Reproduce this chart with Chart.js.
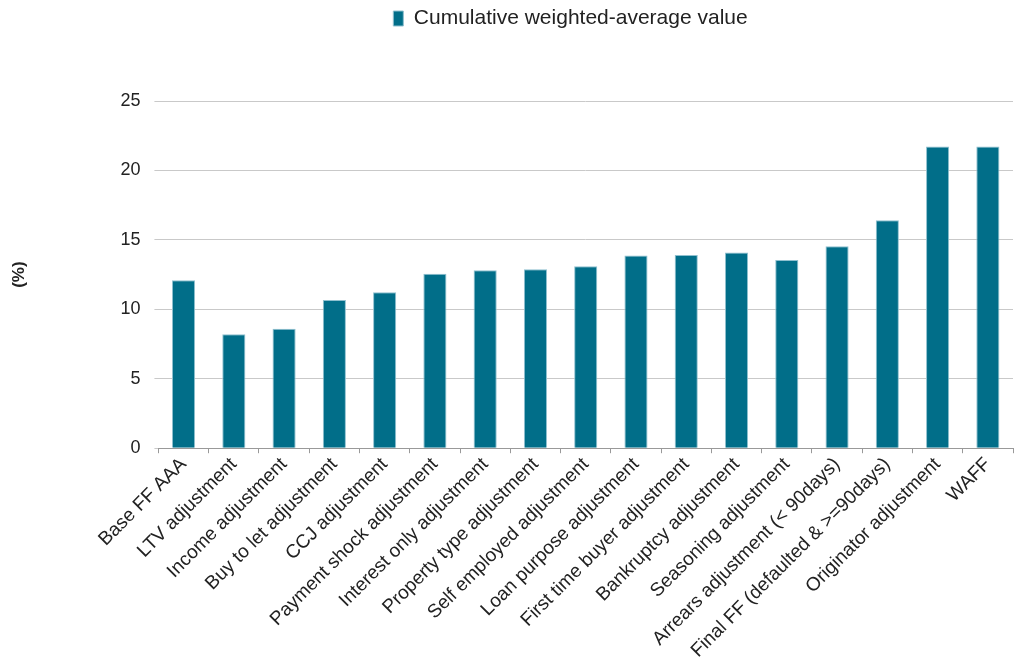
<!DOCTYPE html>
<html>
<head>
<meta charset="utf-8">
<script src="https://cdn.jsdelivr.net/npm/chart.js@4"></script>
<style>
  body { margin: 0; background: #fff; }
  #wrap { width: 1016px; height: 664px; }
</style>
</head>
<body>
<div id="wrap"><canvas id="chart"></canvas></div>
<script>
// categories and values
const categories = [
  'Base FF AAA', 'LTV adjustment', 'Income adjustment', 'Buy to let adjustment',
  'CCJ adjustment', 'Payment shock adjustment', 'Interest only adjustment',
  'Property type adjustment', 'Self employed adjustment', 'Loan purpose adjustment',
  'First time buyer adjustment', 'Bankruptcy adjustment', 'Seasoning adjustment',
  'Arrears adjustment (< 90days)', 'Final FF (defaulted & >=90days)',
  'Originator adjustment', 'WAFF'
];
const cumulativeValues = [12.1, 8.2, 8.6, 10.67, 11.23, 12.57, 12.81, 12.88, 13.1, 13.87, 13.92, 14.09, 13.56, 14.54, 16.42, 21.73, 21.73];
const yTicks = [0, 5, 10, 15, 20, 25];

const fontFam = '"Liberation Sans", Arial, sans-serif';

// extra room under the legend, and legend nudged right over the plot
const legendTweak = {
  id: 'legendTweak',
  afterInit(chart) {
    const origFit = chart.legend.fit;
    chart.legend.fit = function () {
      origFit.call(this);
      this.height += 62;
    };
  },
  afterLayout(chart) {
    chart.legend.left += 122;
  }
};

const ctx = document.getElementById('chart').getContext('2d');
new Chart(ctx, {
  type: 'bar',
  data: {
    labels: categories,
    datasets: [{
      label: 'Cumulative weighted-average value',
      data: cumulativeValues,
      backgroundColor: '#016e89',
      borderColor: '#8fc0cf',
      borderWidth: 1,
      barPercentage: 0.92,
      categoryPercentage: 0.5
    }]
  },
  plugins: [legendTweak],
  options: {
    responsive: true,
    maintainAspectRatio: false,
    animation: false,
    layout: { padding: { top: 2, right: 3, bottom: 2, left: 6 } },
    plugins: {
      legend: {
        position: 'top',
        labels: {
          color: '#222',
          font: { family: fontFam, size: 21 },
          boxWidth: 10,
          boxHeight: 15,
          padding: 6
        }
      },
      tooltip: { enabled: false }
    },
    scales: {
      x: {
        grid: { drawOnChartArea: false, color: '#999', tickLength: 5, offset: true },
        border: { color: '#999' },
        ticks: {
          color: '#222',
          font: { family: fontFam, size: 19 },
          maxRotation: 45,
          minRotation: 45,
          autoSkip: false,
          padding: 0
        }
      },
      y: {
        min: 0,
        max: 25,
        afterBuildTicks: axis => { axis.ticks = yTicks.map(v => ({ value: v })); },
        grid: { color: '#c9c9c9', tickLength: 4 },
        border: { display: false },
        title: {
          display: true,
          text: '(%)',
          color: '#222',
          font: { family: fontFam, size: 17, weight: 'bold' },
          padding: { top: 3, bottom: 77 }
        },
        ticks: {
          color: '#222',
          font: { family: fontFam, size: 18 },
          padding: 14
        }
      }
    }
  }
});
</script>
</body>
</html>
